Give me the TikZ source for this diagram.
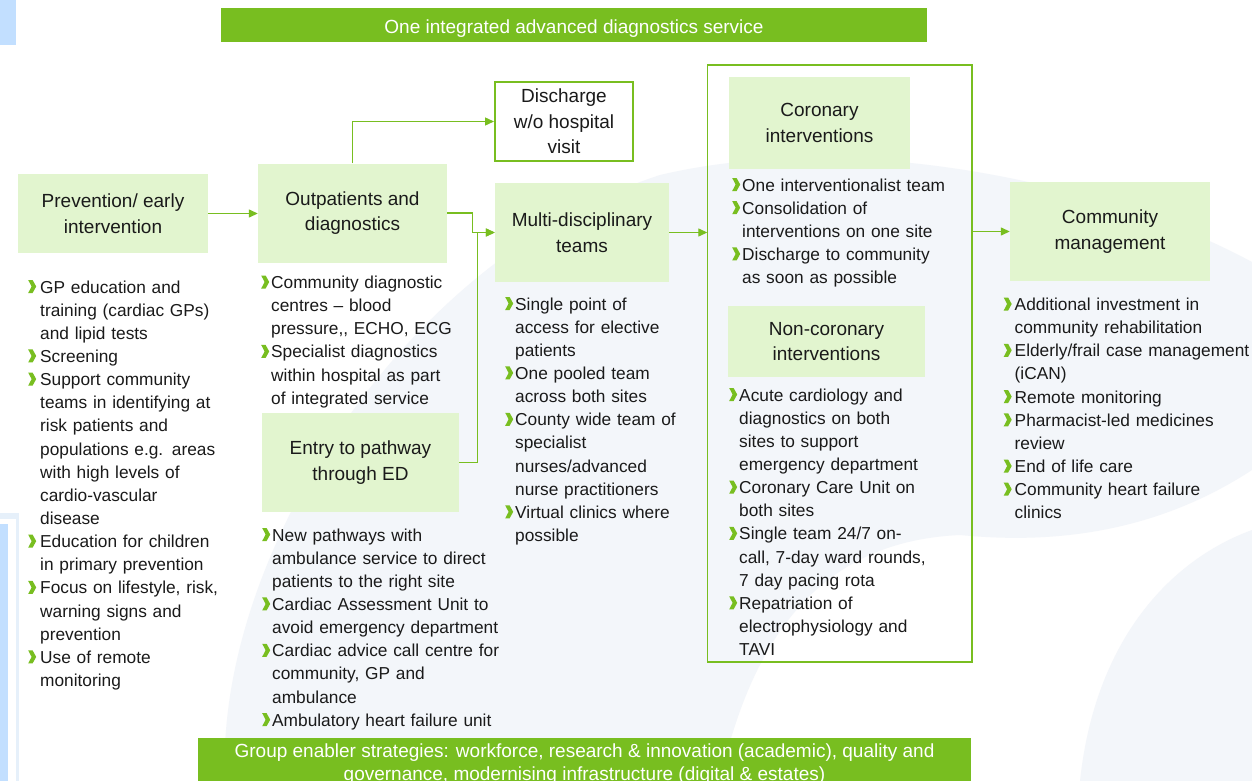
\documentclass[tikz,border=0pt]{standalone}
\usepackage{fontspec}
\setmainfont{Liberation Sans}
\usetikzlibrary{arrows.meta}
\definecolor{gr}{HTML}{78BE20}
\definecolor{lg}{HTML}{E2F5CF}
\definecolor{bgs}{HTML}{F3F6FA}
\definecolor{lb}{HTML}{C2DFFF}
\definecolor{lbb}{HTML}{E6F0FA}
\definecolor{txt}{HTML}{1A1A1A}
\newlength\bw
\newcommand\chev{\tikz[baseline=0pt,x=1pt,y=1pt]\fill[gr] (0,0)--(4.4,0)--(8,6.5)--(4.4,13)--(0,13)--(3.4,6.5)--cycle;}
\newcommand\itm[1]{\noindent\hangindent=\bw\hangafter=1\makebox[\bw][l]{\chev}{\let\\\newline#1}\par}
\newcommand\bodyfs{\fontsize{17.3}{23.15}\selectfont}
\newcommand\titlefs{\fontsize{19}{25.5}\selectfont}
\newcommand\barfs{\fontsize{19}{23.5}\selectfont}
\begin{document}
\begin{tikzpicture}[x=1pt,y=-1pt,
  gbox/.style={fill=lg, draw=none, inner sep=0, align=center, font=\titlefs, text=txt},
  lst/.style={anchor=base west, inner sep=0, text width=330, align=left, font=\bodyfs, text=txt},
  arr/.style={draw=gr, line width=1.3, -{Triangle[length=9pt,width=8pt]}},
  bar/.style={fill=gr, text=white, inner sep=0, align=center, font=\barfs}]
\clip (0,0) rectangle (1252,781);
\fill[white] (0,0) rectangle (1252,781);
% faint background swooshes
\fill[bgs] (225,781) .. controls (215,560) and (400,260) .. (660,175)
  .. controls (850,130) and (1100,180) .. (1252,262) -- (1252,470)
  .. controls (1160,530) and (1060,545) .. (960,535)
  .. controls (850,540) and (760,600) .. (720,781) -- cycle;
\fill[bgs] (1080,781) .. controls (1095,640) and (1170,560) .. (1252,530) -- (1252,781) -- cycle;
% left-edge slide fragments
\fill[lb] (0,0) rectangle (16,45);
\fill[lbb] (0,513) rectangle (19,781);
\fill[white] (0,519) rectangle (16,781);
\fill[lb] (0,524) rectangle (8,781);
% bars
\node[bar, minimum width=706, minimum height=34] (tbar) at (574,25) {};
\node[anchor=base, inner sep=0, text=white, font=\barfs] (ttxt) at (574,33.5) {One integrated advanced diagnostics service};
\node[bar, minimum width=773, minimum height=60, anchor=north] (bbar) at (584.5,738) {};
\node[anchor=base, inner sep=0, align=center, text=white, font=\barfs] (btxt) at (584.5,780.5)
  {Group enabler strategies: workforce, research \& innovation (academic), quality and\\governance, modernising infrastructure (digital \& estates)};
% boxes
\node[gbox, minimum width=190, minimum height=79] (prev) at (113,213.5) {Prevention/ early\\intervention};
\node[gbox, minimum width=189, minimum height=99] (outp) at (352.5,213) {Outpatients and\\diagnostics};
\node[draw=gr, line width=2, fill=white, inner sep=0, align=center, font=\titlefs, text=txt,
  minimum width=138, minimum height=79] (disc) at (564,121.5) {Discharge\\w/o hospital\\visit};
\node[gbox, minimum width=174, minimum height=99] (multi) at (582,232.5) {Multi-disciplinary\\teams};
\node[gbox, minimum width=197, minimum height=99] (entry) at (360.5,462.5) {Entry to pathway\\through ED};
\node[inner sep=0, minimum width=264, minimum height=596] (cont) at (839.5,363.5) {};
\draw[color=gr, line width=1.6] (cont.north west) rectangle (cont.south east);
\node[gbox, minimum width=181, minimum height=91] (coron) at (819.5,123) {Coronary\\interventions};
\node[gbox, minimum width=197, minimum height=71] (noncor) at (826.5,341.5) {Non-coronary\\interventions};
\node[gbox, minimum width=200, minimum height=99] (comm) at (1110,231.5) {Community\\management};
% connectors
\draw[arr] (prev.east) -- (prev.east -| outp.west);
\draw[arr] (outp.north) |- (disc.west);
\draw[arr] (outp.east) -- ++(25,0) |- (multi.west);
\draw[arr] (entry.east) -- ++(18,0) |- (multi.west);
\draw[arr] (multi.east) -- (multi.east -| cont.west);
\draw[arr] (cont.east |- comm.west) -- (comm.west);
% lists
\setlength\bw{12pt}
\node[lst] (l1) at (28,293) {%
\itm{GP education and\\training (cardiac GPs)\\and lipid tests}%
\itm{Screening}%
\itm{Support community\\teams in identifying at\\risk patients and\\populations e.g. areas\\with high levels of\\cardio-vascular\\disease}%
\itm{Education for children\\in primary prevention}%
\itm{Focus on lifestyle, risk,\\warning signs and\\prevention}%
\itm{Use of remote\\monitoring}};
\setlength\bw{10pt}
\node[lst] (l2) at (261,288.5) {%
\itm{Community diagnostic\\centres – blood\\pressure,{},{} ECHO, ECG}%
\itm{Specialist diagnostics\\within hospital as part\\of integrated service}};
\node[lst] (l3) at (262,541) {%
\itm{New pathways with\\ambulance service to direct\\patients to the right site}%
\itm{Cardiac Assessment Unit to\\avoid emergency department}%
\itm{Cardiac advice call centre for\\community, GP and\\ambulance}%
\itm{Ambulatory heart failure unit}};
\node[lst] (l4) at (505,310) {%
\itm{Single point of\\access for elective\\patients}%
\itm{One pooled team\\across both sites}%
\itm{County wide team of\\specialist\\nurses/advanced\\nurse practitioners}%
\itm{Virtual clinics where\\possible}};
\node[lst] (l5) at (732,191) {%
\itm{One interventionalist team}%
\itm{Consolidation of\\interventions on one site}%
\itm{Discharge to community\\as soon as possible}};
\node[lst] (l6) at (729,401) {%
\itm{Acute cardiology and\\diagnostics on both\\sites to support\\emergency department}%
\itm{Coronary Care Unit on\\both sites}%
\itm{Single team 24/7 on-\\call, 7-day ward rounds,\\7 day pacing rota}%
\itm{Repatriation of\\electrophysiology and\\TAVI}};
\setlength\bw{11pt}
\node[lst] (l7) at (1003.5,310.5) {%
\itm{Additional investment in\\community rehabilitation}%
\itm{Elderly/frail case management\\(iCAN)}%
\itm{Remote monitoring}%
\itm{Pharmacist-led medicines\\review}%
\itm{End of life care}%
\itm{Community heart failure\\clinics}};
\end{tikzpicture}
\end{document}
